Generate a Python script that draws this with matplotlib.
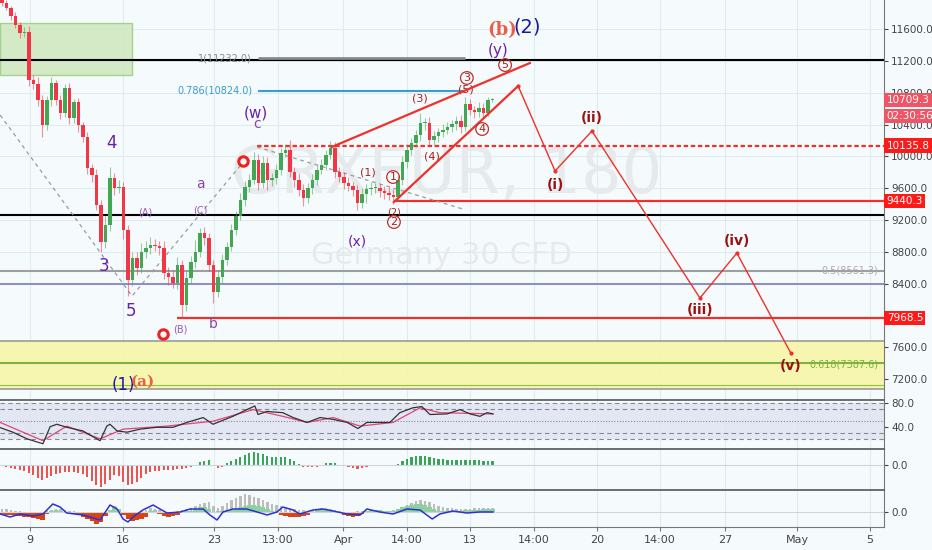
import numpy as np
import matplotlib.pyplot as plt
from matplotlib.patches import Rectangle

# --- 3h candles (close prices) ---
closes = [11929, 11866, 11766, 11652, 11552, 11564, 10961, 10910, 10709, 10395,
          10709, 10923, 10709, 10545, 10860, 10483, 10684, 10395, 10243, 9854,
          9766, 9388, 8923, 9136, 9728, 9602, 9615, 9074, 8445, 8721,
          8596, 8797, 8847, 8885, 8872, 8847, 8533, 8482, 8407, 8633,
          8130, 8470, 8671, 8797, 9036, 8973, 8633, 8294, 8482, 8696,
          8860, 9074, 9250, 9451, 9615, 9703, 9954, 9665, 9916, 9703,
          9728, 9828, 10042, 10080, 9803, 9703, 9577, 9476, 9602, 9703,
          9828, 9891, 10017, 10105, 9803, 9740, 9665, 9627, 9577, 9413,
          9526, 9589, 9602, 9602, 9564, 9539, 9514, 9489, 9703, 9929,
          10080, 10168, 10268, 10420, 10420, 10206, 10256, 10306, 10331, 10369,
          10407, 10445, 10369, 10659, 10583, 10558, 10608, 10545, 10709, 10709]
wick_hi = [30, 40, 30, 50, 40, 60, 80, 60, 90, 60, 50, 70, 40, 60, 50, 60, 40, 50, 40, 60,
           50, 70, 60, 120, 140, 60, 90, 60, 60, 80, 70, 110, 90, 100, 70, 60, 90, 80, 70, 100,
           60, 90, 70, 150, 60, 80, 60, 60, 80, 70, 60, 80, 60, 90, 80, 70, 100, 80, 90, 70,
           60, 80, 60, 70, 120, 60, 90, 70, 60, 80, 60, 70, 60, 90, 70, 60, 60, 70, 50, 60,
           80, 60, 70, 60, 50, 60, 70, 80, 60, 70, 80, 60, 70, 130, 60, 70, 60, 50, 80, 60,
           50, 60, 70, 90, 60, 50, 80, 60, 40, 30]
wick_lo = [40, 30, 50, 40, 60, 50, 70, 60, 80, 150, 60, 70, 60, 80, 50, 70, 60, 90, 60, 80,
           90, 60, 120, 80, 70, 90, 60, 110, 200, 70, 90, 60, 70, 80, 60, 90, 70, 100, 60, 80,
           160, 70, 60, 80, 60, 90, 70, 140, 60, 70, 60, 50, 60, 50, 70, 60, 50, 90, 60, 120,
           80, 70, 60, 50, 60, 90, 70, 100, 60, 70, 60, 50, 60, 50, 70, 60, 80, 60, 70, 90,
           60, 110, 70, 60, 80, 70, 60, 90, 50, 60, 70, 60, 50, 70, 90, 60, 80, 70, 60, 50,
           60, 70, 80, 50, 60, 70, 60, 50, 40, 30]

# --- RSI and its average (bar index, value) ---
rsi_x = [-0.4, 2.4, 5.6, 9.1, 10.7, 12.2, 14.4, 18, 21.8, 23.3, 24, 25.6, 27.8, 30.7, 34.4,
         38, 41.1, 44.7, 46.9, 51.3, 54.4, 56.2, 56.9, 58.9, 62.4, 64.7, 67.8, 70.7, 73.6,
         76.7, 79.1, 81.1, 86.2, 88.4, 91.3, 93.3, 95.1, 98.9, 101.8, 104, 106.2, 107.8, 109.1]
rsi_y = [39.5, 32, 21, 13, 41, 45, 40, 34, 18, 42, 45, 34, 32, 37, 40,
         40, 48, 56, 45, 58, 69, 75, 61, 66, 64, 56, 48, 56, 53,
         48, 38, 48, 48, 64, 72, 74, 61, 62, 69, 62, 58, 64, 62]
rsi_ma_x = [-0.4, 9.1, 14.4, 21.8, 26.9, 36.7, 46.9, 55.8, 62.4, 67.8, 73.6, 79.6, 86.9, 92.9, 97.3, 109.1]
rsi_ma_y = [48, 18, 42, 21, 37, 42, 50, 69, 58, 48, 56, 42, 48, 72, 64, 62]

# --- MACD histogram (one per bar) ---
macd_hist = [-1, -2, -3, -4, -5, -6, -8, -10, -13, -15, -13, -11, -9, -8, -7, -7, -7, -8, -9, -12,
             -16, -20, -22, -19, -15, -10, -11, -17, -20, -19, -17, -13, -9, -7, -6, -6, -5, -5, -5, -4,
             -4, -3, -2, -1, 3, 4, 5, 0, -3, -2, 2, 4, 6, 8, 10, 12, 13, 12, 11, 9,
             8, 8, 8, 8, 6, 4, 1, -2, -2, -2, -2, -1, 2, 2, 2, 0, -1, -2, -3, -4,
             -3, -2, -1, -1, -1, -1, -1, 0, 1, 4, 6, 8, 9, 9, 9, 8, 7, 6, 6, 5,
             5, 5, 5, 5, 5, 5, 5, 4, 4, 4]

# --- squeeze momentum panel ---
sqz_mom = [-2, -3, -3, -4, -4, -5, -5, -6, -7, -8, -2, 1, 2, 1, 0, -1, -2, -3, -5, -7,
           -9, -12, -10, -4, 2, 5, 3, -3, -7, -9, -8, -7, -5, 1, 2, -2, -4, -5, -4, -3,
           0, 1, 1, 2, 5, 5, 3, 0, 1, 1, 2, 2, 3, 5, 6, 7, 7, 6, 5, 3,
           1, -1, -3, -4, -5, -5, -5, -4, -3, -1, 2, 3, 3, 2, 0, -1, -3, -4, -5, -4,
           -2, 1, 2, 2, 2, 1, 1, 1, 3, 5, 6, 7, 8, 8, 7, 5, 3, 1, 1, 1,
           1, 1, 1, 2, 2, 2, 2, 3, 3, 3]
sqz_gray = [3, 3, 2, 1, 1, 0, 0, 0, 0, 0, 1, 2, 3, 3, 2, 1, 1, 0, 0, 0,
            0, 0, 0, 0, 1, 6, 2, 0, 0, 0, 0, 1, 2, 4, 3, 2, 1, 0, 0, 1,
            2, 3, 4, 6, 8, 9, 10, 6, 4, 6, 9, 12, 14, 16, 18, 17, 15, 14, 12, 10,
            8, 7, 6, 5, 4, 3, 2, 2, 1, 2, 3, 4, 4, 3, 2, 1, 0, 0, 0, 1,
            1, 1, 1, 1, 1, 1, 1, 2, 3, 5, 7, 9, 11, 12, 11, 10, 8, 6, 5, 4,
            4, 3, 3, 3, 3, 4, 4, 4, 4, 4]
sqz_line_x = [-0.4, 1.8, 4, 6.9, 9.1, 11.3, 12.9, 14.4, 18, 21.8, 24, 25.6, 26.9, 28, 29.1,
              31.3, 33.6, 35.1, 36.7, 39.6, 41.8, 44.7, 46.2, 47.8, 49.1, 51.3, 54.4, 56.7,
              58.9, 61.1, 62.4, 64.7, 66.2, 69.1, 71.3, 73.6, 76.7, 79.6, 81.1, 84, 86.9,
              90, 92.9, 95.6, 97.3, 100.2, 103.3, 106.2, 109.1]
sqz_line_y = [-2, -5, -2, -4, -2, 8, 5, -1, -3, -8, 7, 3, -7, -10, -5,
              2, 7, 3, -1, 0, 3, 3, -3, -8, 0, 3, 3, 0,
              -3, 0, 5, 2, -2, 2, 3, 1, -2, -3, 3, 0, -2,
              3, 2, -7, -2, 1, -1, 0, 0]

# --- axis labels ---
price_ticks = [7200, 7600, 8400, 8800, 9200, 9600, 10000, 10400, 10800, 11200, 11600]
time_pos = [6.2, 26.9, 47.1, 61.3, 75.8, 90, 104, 118.2, 132.2, 146.2, 160.7, 176.7, 192.9]
time_lab = ['9', '16', '23', '13:00', 'Apr', '14:00', '13', '14:00', '20', '14:00', '27', 'May', '5']

# projected wave path and wedge
proj_x = [114.7, 122.9, 131.1, 155.1, 163.3, 175.3]
proj_y = [10885, 9816, 10319, 8218, 8784, 7526]

bg = '#f5fbfd'
grid_c = '#e2eaee'
red = '#f23645'
green = '#43a653'
xlim = (-0.44, 196)
W = 884 / 932

fig = plt.figure(figsize=(9.32, 5.5), dpi=100, facecolor=bg)
ax = fig.add_axes([0, 1 - 399 / 550, W, 399 / 550], facecolor=bg)
ax_rsi = fig.add_axes([0, 1 - 449 / 550, W, 49 / 550], facecolor=bg)
ax_macd = fig.add_axes([0, 1 - 490 / 550, W, 41 / 550], facecolor=bg)
ax_sqz = fig.add_axes([0, 1 - 527 / 550, W, 37 / 550], facecolor=bg)

for a in (ax, ax_rsi, ax_macd, ax_sqz):
    a.set_xlim(*xlim)
    a.yaxis.tick_right()
    a.tick_params(axis='y', labelsize=7.5, colors='#444', length=3, pad=2)
    a.tick_params(axis='x', length=0, labelbottom=False)
    a.spines['left'].set_visible(False)
    a.spines['right'].set_color('#777')
    a.spines['top'].set_color('#555')
    a.spines['top'].set_linewidth(1.2)
    a.spines['bottom'].set_visible(False)
    a.set_xticks(time_pos)
    a.grid(axis='x', color=grid_c, lw=0.8)
    a.set_axisbelow(True)
ax.spines['top'].set_visible(False)

# ---------------- main price panel ----------------
ax.set_ylim(6948, 11967)
ax.set_yticks(price_ticks)
ax.set_yticklabels([f'{t:.1f}' for t in price_ticks])
ax.grid(axis='y', color=grid_c, lw=0.8)

# watermark
ax.text(98.7, 9765, 'GRXEUR, 180', fontsize=46, color='#e6eaec', ha='center', va='center', zorder=0)
ax.text(97.6, 8759, 'Germany 30 CFD', fontsize=22, color='#e6eaec', ha='center', va='center', zorder=0)

# zones
ax.add_patch(Rectangle((xlim[0], 11024), 28.9 - xlim[0], 11681 - 11024,
                       fc='#cfe8bd', ec='#9ccc7a', lw=1, alpha=0.85, zorder=1))
ax.axhspan(7074, 7677, color='#f8f6a8', alpha=0.9, zorder=1, lw=0)
ax.axhline(7677, color='#9a9a9a', lw=1.2, zorder=2)
ax.axhline(7400, color='#7cb342', lw=1.5, zorder=2)
ax.axhline(7124, color='#8bc34a', lw=0.8, zorder=2)
ax.axhline(7074, color='#9a9a9a', lw=1.2, zorder=2)

# horizontal levels
ax.axhline(11210, color='black', lw=1.5, zorder=2)
ax.axhline(9262, color='black', lw=1.5, zorder=2)
ax.axhline(8561, color='#9e9e9e', lw=1.5, zorder=2)
ax.axhline(8394, color='#7b7bc0', lw=1.2, zorder=2)
ax.hlines(11232, 56.9, 102.9, color='#8a8a8a', lw=2, zorder=2)
ax.hlines(10824, 56.9, 102.9, color='#3b9bd3', lw=1.5, zorder=2)
ax.hlines(10135.8, 56.7, xlim[1], color='#f0302a', lw=1.6, ls=(0, (2, 1.2)), zorder=2)
ax.hlines(9440.3, 87.1, xlim[1], color='#f0302a', lw=1.6, zorder=2)
ax.hlines(7968.5, 38.9, xlim[1], color='#f0302a', lw=1.6, zorder=2)

ax.text(55.6, 11232, '1(11232.0)', fontsize=7, color='#8a8a8a', ha='right', va='center')
ax.text(55.6, 10824, '0.786(10824.0)', fontsize=7, color='#3b9bd3', ha='right', va='center')
ax.text(194.7, 8561, '0.5(8561.3)', fontsize=7, color='#aaaaaa', ha='right', va='center')
ax.text(194.7, 7388, '0.618(7387.6)', fontsize=7, color='#7cb342', ha='right', va='center')

# dashed helper lines
ax.plot([-0.4, 28.9, 54], [10520, 8243, 9954], color='#9a9a9a', lw=0.9, ls=(0, (3, 3)), zorder=2)
ax.plot([56.7, 102.4], [10118, 9338], color='#9a9a9a', lw=0.9, ls=(0, (3, 3)), zorder=2)

# candles
idx = np.arange(len(closes))
c = np.array(closes, dtype=float)
o = np.concatenate([[c[0] + 60], c[:-1]])
up = c >= o
hi = np.maximum(o, c) + np.array(wick_hi)
lo = np.minimum(o, c) - np.array(wick_lo)
cols = np.where(up, green, red)
ax.vlines(idx, lo, hi, colors=cols, lw=0.8, alpha=0.55, zorder=3)
body = np.maximum(np.abs(c - o), 12)
ax.bar(idx, body, bottom=np.minimum(o, c), width=0.7, color=cols, lw=0, zorder=4)

# wedge and projection
ax.plot([73.3, 117.3], [10118, 11174], color='#f0302a', lw=1.6, zorder=5)
ax.plot([87.1, proj_x[0]], [9426, proj_y[0]], color='#f0302a', lw=1.6, zorder=5)
ax.plot(proj_x, proj_y, color='#f0302a', lw=1, marker='o', ms=2, zorder=5)

# wave labels
purple = '#6a1fb0'
ax.text(24.4, 10168, '4', fontsize=12, color=purple, ha='center', va='center')
ax.text(22.7, 8621, '3', fontsize=12, color=purple, ha='center', va='center')
ax.text(28.7, 8055, '5', fontsize=12, color=purple, ha='center', va='center')
ax.text(44, 9652, 'a', fontsize=10, color='#8e44ad', ha='center', va='center')
ax.text(46.9, 7891, 'b', fontsize=10, color='#8e44ad', ha='center', va='center')
ax.text(56.4, 10540, '(w)', fontsize=11, color=purple, ha='center', va='center')
ax.text(56.7, 10410, 'c', fontsize=10, color='#8e44ad', ha='center', va='center')
ax.text(31.8, 9300, '(A)', fontsize=7, color='#9b59b6', ha='center', va='center')
ax.text(44, 9325, '(C)', fontsize=7, color='#9b59b6', ha='center', va='center')
ax.text(39.6, 7816, '(B)', fontsize=7, color='#9b59b6', ha='center', va='center')
ax.text(78.9, 8923, '(x)', fontsize=10, color=purple, ha='center', va='center')
ax.text(110.2, 11338, '(y)', fontsize=11, color=purple, ha='center', va='center')
ax.text(111.1, 11590, '(b)', fontsize=13, color='#e8604a', family='DejaVu Serif',
        weight='bold', ha='center', va='center')
ax.text(116.7, 11627, '(2)', fontsize=14, color='#1a1a9c', ha='center', va='center')
ax.text(26.9, 7124, '(1)', fontsize=12, color='#1a1a9c', ha='center', va='center')
ax.text(31.3, 7162, '(a)', fontsize=11, color='#e8604a', family='DejaVu Serif',
        weight='bold', ha='center', va='center')

for x, y in [(35.8, 7765), (53.6, 9942)]:
    ax.plot(x, y, 'o', ms=8, color='#ee2222', zorder=6)
    ax.plot(x, y, 'o', ms=3.5, color='white', zorder=7)

dred = '#9b1010'
ax.text(81.3, 9791, '(1)', fontsize=8, color='#a82020', ha='center', va='center')
ax.text(92.9, 10734, '(3)', fontsize=8, color='#a82020', ha='center', va='center')
ax.text(95.6, 10004, '(4)', fontsize=8, color='#a82020', ha='center', va='center')
ax.text(103.1, 10835, '(5)', fontsize=8, color='#a82020', ha='center', va='center')
ax.text(87.1, 9300, '(2)', fontsize=7, color='#a82020', ha='center', va='center')
circ = dict(boxstyle='circle,pad=0.12', fc='none', ec='#c0302a', lw=0.9)
for x, y, t in [(86.9, 9740, '1'), (103.3, 10986, '3'), (111.8, 11149, '5'),
                (106.7, 10344, '4'), (87.1, 9174, '2')]:
    ax.text(x, y, t, fontsize=8, color='#a82020', ha='center', va='center', bbox=circ, zorder=6)

for x, y, t in [(122.9, 9640, '(i)'), (131.1, 10483, '(ii)'), (155.1, 8067, '(iii)'),
                (163.3, 8935, '(iv)'), (175.3, 7363, '(v)')]:
    ax.text(x, y, t, fontsize=10, color=dred, weight='bold', ha='center', va='center')

# price tags on the scale
yt = ax.get_yaxis_transform()
for p, t, col in [(10709.3, '10709.3', '#ee5566'), (10508, '02:30:56', '#ee5566'),
                  (10135.8, '10135.8', '#ff1a1a'), (9440.3, '9440.3', '#ff1a1a'),
                  (7968.5, '7968.5', '#ff1a1a')]:
    ax.text(1.003, p, t, transform=yt, fontsize=7.5, color='white', ha='left', va='center',
            clip_on=False, zorder=20,
            bbox=dict(boxstyle='square,pad=0.22', fc=col, ec='none'))

# ---------------- RSI ----------------
ax_rsi.set_ylim(4.4, 84.8)
ax_rsi.axhspan(20, 80, color='#dfe2f1', alpha=0.8, lw=0)
for lv in (80, 70, 30, 20):
    ax_rsi.axhline(lv, color='#8a8a8a', lw=0.8, ls=(0, (4, 3)))
ax_rsi.axhline(50, color='#8a8a8a', lw=0.8, ls=(0, (1, 1.5)))
ax_rsi.plot(rsi_ma_x, rsi_ma_y, color='#e0457b', lw=0.9)
ax_rsi.plot(rsi_x, rsi_y, color='#333333', lw=0.9)
ax_rsi.set_yticks([40, 80])
ax_rsi.set_yticklabels(['40.0', '80.0'])

# ---------------- MACD histogram ----------------
ax_macd.set_ylim(-25, 16)
ax_macd.axhline(0, color='#cfd6da', lw=0.8)
mh = np.array(macd_hist)
ax_macd.bar(idx, mh, width=0.45, color=np.where(mh >= 0, '#3aa55a', '#f0524f'), lw=0)
ax_macd.set_yticks([0])
ax_macd.set_yticklabels(['0.0'])

# ---------------- squeeze momentum ----------------
ax_sqz.set_ylim(-15, 22)
ax_sqz.axhline(0, color='#cfd6da', lw=0.8)
ax_sqz.bar(idx, sqz_gray, width=0.5, color='#bdbdbd', lw=0)
sm = np.array(sqz_mom)
ax_sqz.bar(idx, sm, width=0.9, color=np.where(sm >= 0, '#8fd19e', '#d84315'), lw=0)
ax_sqz.plot(sqz_line_x, sqz_line_y, color='#3030d0', lw=1.1)
ax_sqz.set_yticks([0])
ax_sqz.set_yticklabels(['0.0'])
ax_sqz.spines['bottom'].set_visible(True)
ax_sqz.spines['bottom'].set_color('#777')
ax_sqz.set_xticks(time_pos)
ax_sqz.set_xticklabels(time_lab)
ax_sqz.tick_params(axis='x', length=3, color='#777', labelsize=8, labelcolor='#444', pad=3,
                   labelbottom=True)

fig.savefig('out.png', dpi=100, facecolor=bg)
